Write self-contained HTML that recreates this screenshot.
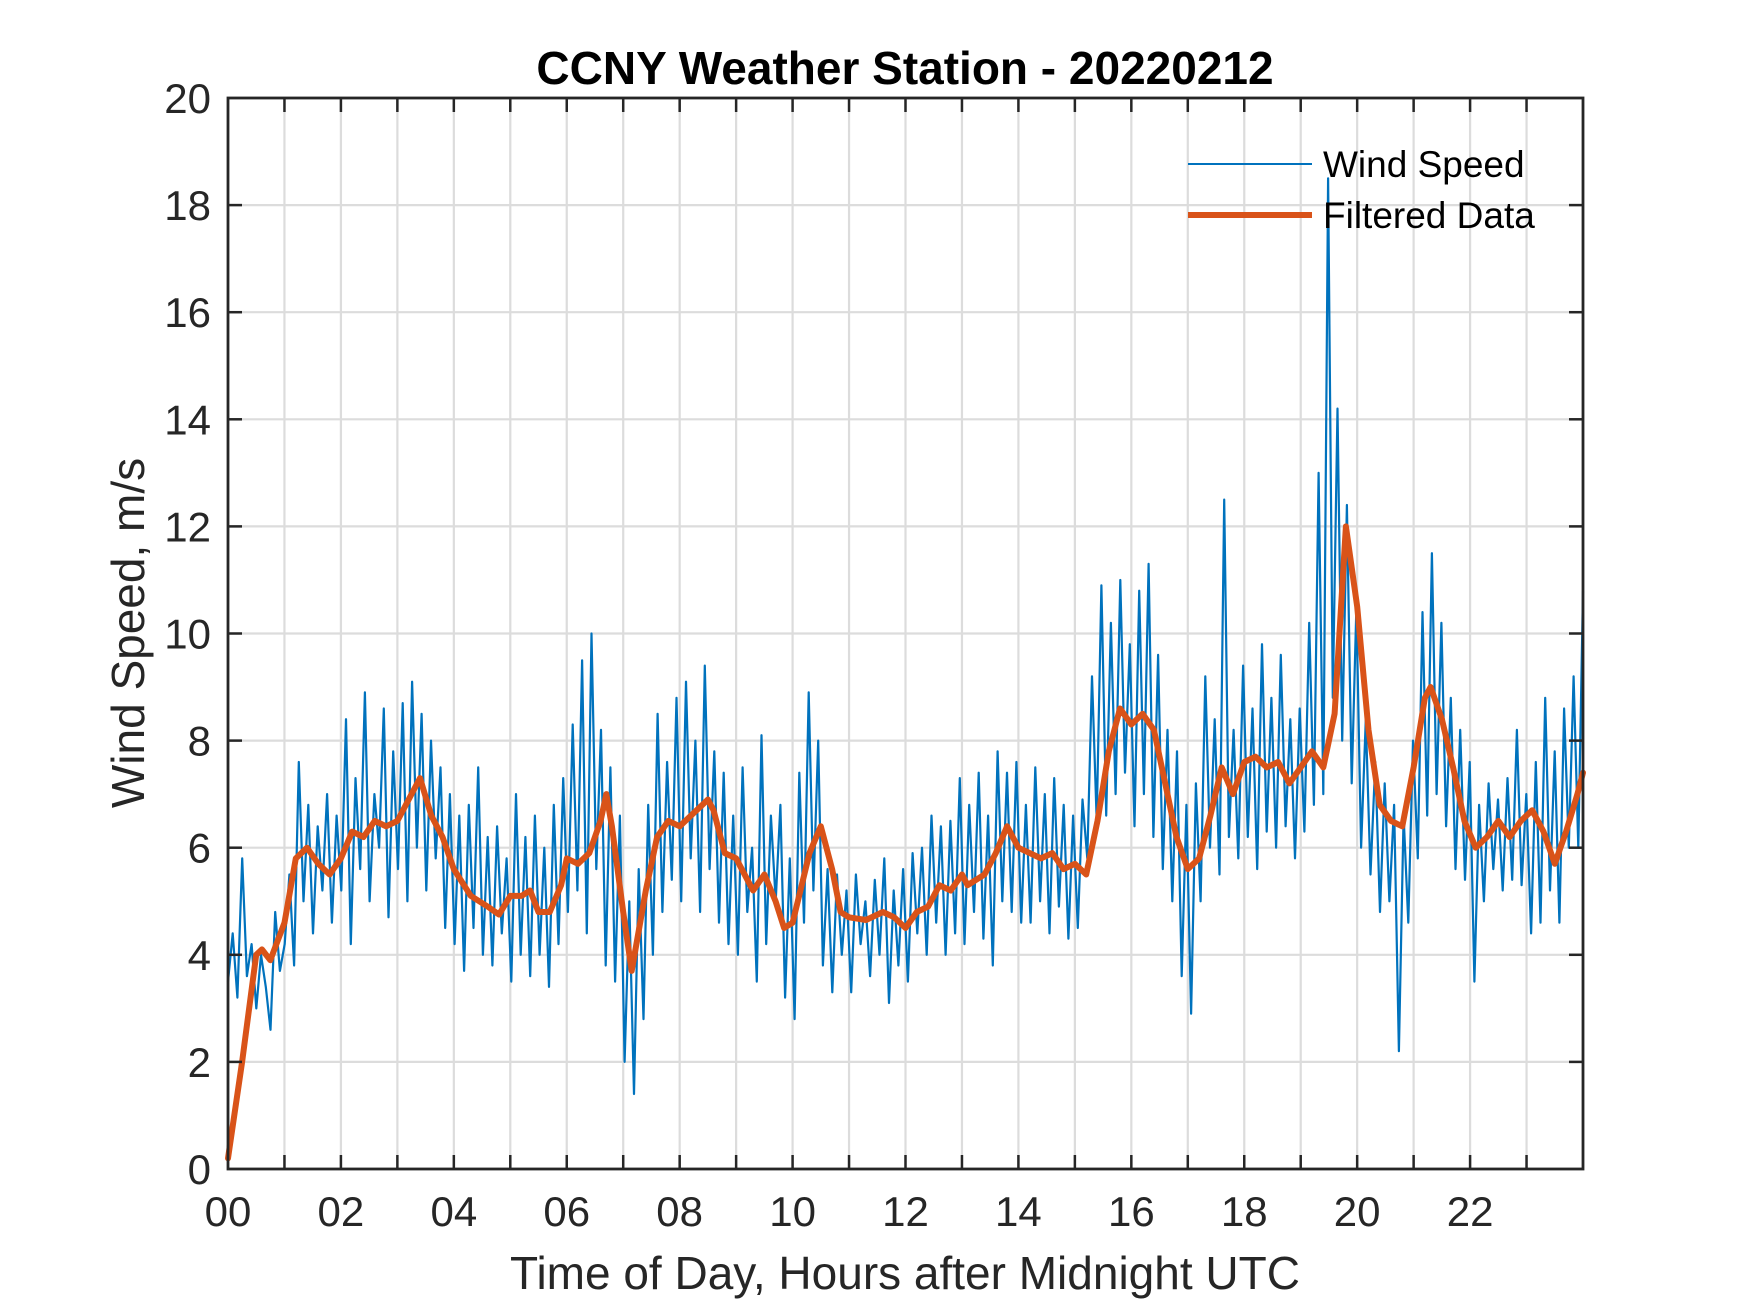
<!DOCTYPE html>
<html><head><meta charset="utf-8"><style>
html,body{margin:0;padding:0;background:#fff;}
svg{display:block;font-family:"Liberation Sans",Arial,sans-serif;}
</style></head><body>
<svg id="chart" width="1750" height="1313" viewBox="0 0 1750 1313">
<rect width="1750" height="1313" fill="#fff"/>
<g id="grid"></g>
<g id="series"></g>
<g id="axes"></g>
<text x="905" y="84" text-anchor="middle" font-size="46" font-weight="bold" fill="#000">CCNY Weather Station - 20220212</text>
<text x="905" y="1289" text-anchor="middle" font-size="46" fill="#262626">Time of Day, Hours after Midnight UTC</text>
<text transform="translate(144,633) rotate(-90)" text-anchor="middle" font-size="46" fill="#262626">Wind Speed, m/s</text>
<g>
<line x1="1188" y1="164" x2="1312" y2="164" stroke="#0072BD" stroke-width="2"/>
<text x="1323" y="177" font-size="37" fill="#000">Wind Speed</text>
<line x1="1188" y1="215" x2="1312" y2="215" stroke="#D95319" stroke-width="6"/>
<text x="1323" y="228" font-size="37" fill="#000">Filtered Data</text>
</g>
</svg>
<script>
const xTicks=[0,2,4,6,8,10,12,14,16,18,20,22];
const xTickLabels=["00","02","04","06","08","10","12","14","16","18","20","22"];
const yTicks=[0,2,4,6,8,10,12,14,16,18,20];
const windSpeed=[
3.5,4.4,3.2,5.8,3.6,4.2,3.0,4.0,3.4,2.6,4.8,3.7,
4.2,5.5,3.8,7.6,5.0,6.8,4.4,6.4,5.2,7.0,4.6,6.6,
5.2,8.4,4.2,7.3,5.6,8.9,5.0,7.0,6.0,8.6,4.7,7.8,
5.6,8.7,5.0,9.1,6.0,8.5,5.2,8.0,5.8,7.5,4.5,7.0,
4.2,6.6,3.7,6.8,4.5,7.5,4.0,6.2,3.8,6.4,4.4,5.8,
3.5,7.0,4.0,6.2,3.6,6.6,4.0,6.0,3.4,6.8,4.2,7.3,
4.8,8.3,5.2,9.5,4.4,10.0,5.6,8.2,3.8,7.5,3.5,6.6,
2.0,5.0,1.4,5.6,2.8,6.8,4.0,8.5,4.8,7.6,5.4,8.8,
5.0,9.1,5.8,8.0,4.8,9.4,5.6,7.8,4.6,7.4,4.2,6.6,
4.0,7.5,4.8,6.0,3.5,8.1,4.2,6.6,5.0,6.8,3.2,5.8,
2.8,7.4,4.6,8.9,5.2,8.0,3.8,5.6,3.3,5.5,4.0,5.2,
3.3,5.5,4.2,5.0,3.6,5.4,4.0,5.8,3.1,5.2,3.8,5.6,
3.5,5.9,4.4,6.0,4.0,6.6,4.6,6.4,4.0,6.5,4.4,7.3,
4.2,6.8,4.8,7.4,4.3,6.6,3.8,7.8,5.0,7.4,4.8,7.6,
4.6,6.8,4.6,7.5,5.0,7.0,4.4,7.3,4.9,6.8,4.3,6.6,
4.5,6.9,5.8,9.2,6.5,10.9,6.6,10.2,7.0,11.0,7.4,9.8,
6.4,10.8,7.0,11.3,6.2,9.6,5.6,8.2,5.0,7.8,3.6,6.8,
2.9,7.2,5.0,9.2,6.0,8.4,5.5,12.5,6.2,8.2,5.8,9.4,
6.2,8.6,5.6,9.8,6.3,8.8,6.0,9.6,6.4,8.4,5.8,8.6,
6.3,10.2,6.8,13.0,7.0,18.5,8.8,14.2,8.0,12.4,7.2,10.5,
6.0,8.4,5.5,7.6,4.8,7.2,5.0,6.8,2.2,6.6,4.6,8.0,
5.8,10.4,6.6,11.5,7.0,10.2,6.4,8.8,5.6,8.2,5.4,7.6,
3.5,6.8,5.0,7.2,5.6,6.9,5.2,7.3,5.4,8.2,5.3,7.0,
4.4,7.6,4.6,8.8,5.2,7.8,4.6,8.6,6.0,9.2,6.0,10.8];
const filteredHours=[0,0.25,0.5,0.6,0.75,1.0,1.2,1.4,1.6,1.8,2.0,2.2,2.4,2.6,2.8,3.0,3.2,3.4,3.6,3.8,4.0,4.3,4.6,4.8,5.0,5.2,5.35,5.5,5.7,5.9,6.0,6.2,6.4,6.6,6.7,6.8,7.0,7.15,7.4,7.6,7.8,8.0,8.2,8.4,8.5,8.6,8.8,9.0,9.2,9.3,9.5,9.7,9.85,10.0,10.3,10.5,10.7,10.85,11.0,11.3,11.6,11.8,12.0,12.2,12.4,12.6,12.8,13.0,13.1,13.4,13.6,13.8,14.0,14.2,14.4,14.6,14.8,15.0,15.2,15.4,15.6,15.8,16.0,16.2,16.4,16.6,16.8,17.0,17.2,17.4,17.6,17.8,18.0,18.2,18.4,18.6,18.8,19.0,19.2,19.4,19.6,19.8,20.0,20.2,20.4,20.6,20.8,21.0,21.2,21.3,21.5,21.7,21.9,22.1,22.3,22.5,22.7,22.9,23.1,23.3,23.5,23.7,23.9,24.0];
const filteredValues=[0.2,2.0,4.0,4.1,3.9,4.6,5.8,6.0,5.7,5.5,5.8,6.3,6.2,6.5,6.4,6.5,6.9,7.3,6.6,6.2,5.6,5.1,4.9,4.75,5.1,5.1,5.2,4.8,4.8,5.3,5.8,5.7,5.9,6.5,7.0,6.4,4.8,3.7,5.2,6.2,6.5,6.4,6.6,6.8,6.9,6.7,5.9,5.8,5.4,5.2,5.5,5.0,4.5,4.6,5.9,6.4,5.6,4.8,4.7,4.65,4.8,4.7,4.5,4.8,4.9,5.3,5.2,5.5,5.3,5.5,5.9,6.4,6.0,5.9,5.8,5.9,5.6,5.7,5.5,6.5,7.8,8.6,8.3,8.5,8.2,7.2,6.2,5.6,5.8,6.6,7.5,7.0,7.6,7.7,7.5,7.6,7.2,7.5,7.8,7.5,8.5,12.0,10.5,8.2,6.8,6.5,6.4,7.5,8.8,9.0,8.4,7.5,6.5,6.0,6.2,6.5,6.2,6.5,6.7,6.3,5.7,6.3,7.0,7.4];

const L=228,R=1583,T=98,B=1169,XMAX=24,YMAX=20;
const sx=h=>L+(R-L)*h/XMAX;
const sy=v=>B-(B-T)*v/YMAX;
const NS='http://www.w3.org/2000/svg';
function mk(tag,attrs,parent){const e=document.createElementNS(NS,tag);for(const k in attrs)e.setAttribute(k,attrs[k]);parent.appendChild(e);return e;}
const grid=document.getElementById('grid'),axes=document.getElementById('axes'),series=document.getElementById('series');
for(let h=1;h<24;h++){
  const g=mk('line',{x1:sx(h),x2:sx(h),y1:T,y2:B,stroke:'#dcdcdc','stroke-width':2.2},grid);
  
  
  const t1=mk('line',{x1:sx(h),x2:sx(h),y1:B,y2:B-14,stroke:'#262626','stroke-width':2.5},axes);
  
  
  const t2=mk('line',{x1:sx(h),x2:sx(h),y1:T,y2:T+14,stroke:'#262626','stroke-width':2.5},axes);
  
  
}
yTicks.forEach(v=>{
  if(v>0&&v<YMAX){
    const g=mk('line',{x1:L,x2:R,y1:sy(v),y2:sy(v),stroke:'#dcdcdc','stroke-width':2.2},grid);
    
    
    const t1=mk('line',{x1:L,x2:L+14,y1:sy(v),y2:sy(v),stroke:'#262626','stroke-width':2.5},axes);
    
    
    const t2=mk('line',{x1:R,x2:R-14,y1:sy(v),y2:sy(v),stroke:'#262626','stroke-width':2.5},axes);
    
    
  }
  const lb=mk('text',{x:L-17,y:sy(v)+15,'text-anchor':'end','font-size':42,fill:'#262626'},axes);
  lb.textContent=String(v);
  
  
});
xTicks.forEach((h,i)=>{
  const lb=mk('text',{x:sx(h),y:1226,'text-anchor':'middle','font-size':42,fill:'#262626'},axes);
  lb.textContent=xTickLabels[i];
  
  
});
const box=mk('rect',{x:L,y:T,width:R-L,height:B-T,fill:'none',stroke:'#262626','stroke-width':2.8},axes);



const n=windSpeed.length;
const wp=windSpeed.map((v,i)=>sx(i*XMAX/(n-1)).toFixed(1)+','+sy(v).toFixed(1)).join(' ');
const wl=mk('polyline',{points:wp,fill:'none',stroke:'#0072BD','stroke-width':2.2,'stroke-linejoin':'round'},series);


const fp=filteredValues.map((v,i)=>sx(filteredHours[i]).toFixed(1)+','+sy(v).toFixed(1)).join(' ');
const fl=mk('polyline',{points:fp,fill:'none',stroke:'#D95319','stroke-width':6,'stroke-linejoin':'round','stroke-linecap':'round'},series);


</script>
</body></html>
